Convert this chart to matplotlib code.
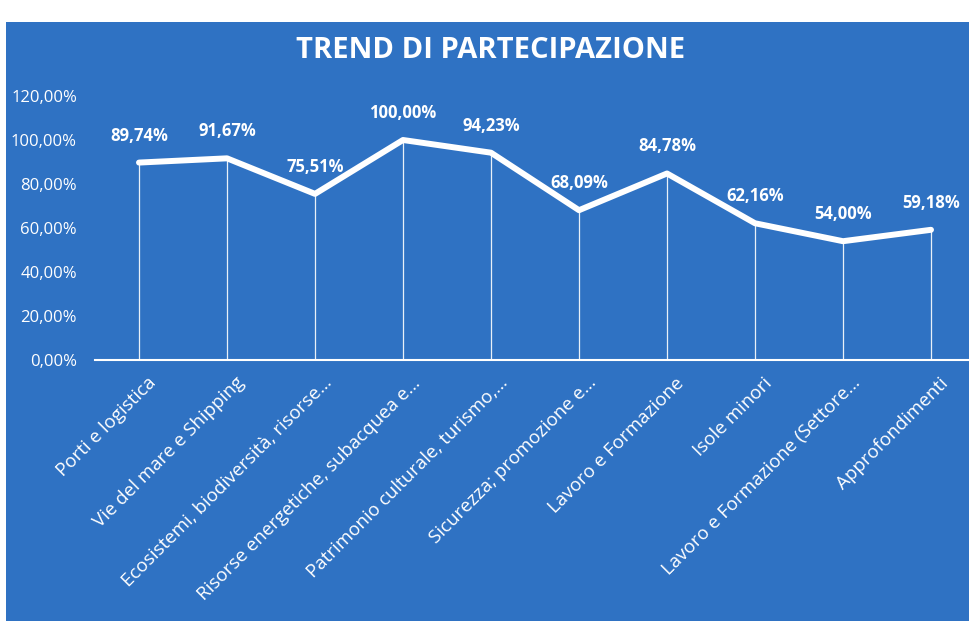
import matplotlib.pyplot as plt
import matplotlib.transforms as mtransforms
from matplotlib.patches import Rectangle

plt.rcParams['font.family'] = ['Open Sans', 'DejaVu Sans']

categories = ["Porti e logistica", "Vie del mare e Shipping",
              "Ecosistemi, biodiversità, risorse…",
              "Risorse energetiche, subacquea e…",
              "Patrimonio culturale, turismo,…",
              "Sicurezza; promozione e…", "Lavoro e Formazione",
              "Isole minori", "Lavoro e Formazione (Settore…",
              "Approfondimenti"]
values = [89.74, 91.67, 75.51, 100.00, 94.23, 68.09, 84.78, 62.16, 54.00, 59.18]
yticks = [0, 20, 40, 60, 80, 100, 120]

blue = '#2f72c3'

fig = plt.figure(figsize=(969/100, 621/100), dpi=100, facecolor='white')
# blue chart area (scan leaves a white strip at top/left)
fig.patches.append(Rectangle((6/969, 0), 1, 1 - 22/621, transform=fig.transFigure,
                             facecolor=blue, edgecolor='none', zorder=-10))

ax = fig.add_axes([95/969, 1 - 360/621, 880/969, 264/621])
ax.set_facecolor('none')
x = range(len(values))

ax.vlines(x, 0, values, color='white', lw=0.9, alpha=0.9)
ax.plot(x, values, color='white', lw=4.3, solid_capstyle='round', solid_joinstyle='round')

for i, v in enumerate(values):
    ax.annotate(f"{v:.2f}%".replace('.', ','), (i, v), xytext=(0, 13),
                textcoords='offset points', ha='center', va='bottom',
                color='white', fontsize=12, fontweight='bold')

ax.set_xlim(-0.5, len(values) - 0.5)
ax.set_ylim(0, 120)
ax.set_yticks(yticks)
ax.set_yticklabels([f"{t:.2f}%".replace('.', ',') for t in yticks])
ax.set_xticks(list(x))
ax.set_xticklabels(categories, rotation=45, ha='right', rotation_mode='anchor')

ax.tick_params(axis='y', length=0, colors='white', labelsize=12, pad=13)
ax.tick_params(axis='x', length=0, colors='white', labelsize=13.5, pad=10)
shift = mtransforms.ScaledTranslation(8/100, 0, fig.dpi_scale_trans)
for lab in ax.get_xticklabels():
    lab.set_transform(lab.get_transform() + shift)
for s in ['top', 'right', 'left']:
    ax.spines[s].set_visible(False)
ax.spines['bottom'].set_color('white')
ax.spines['bottom'].set_linewidth(1.5)

fig.text(491/969, 1 - 50/621, "TREND DI PARTECIPAZIONE", ha='center', va='center',
         color='white', fontsize=21, fontweight='bold')

fig.savefig('out.png', dpi=100, facecolor='white')
